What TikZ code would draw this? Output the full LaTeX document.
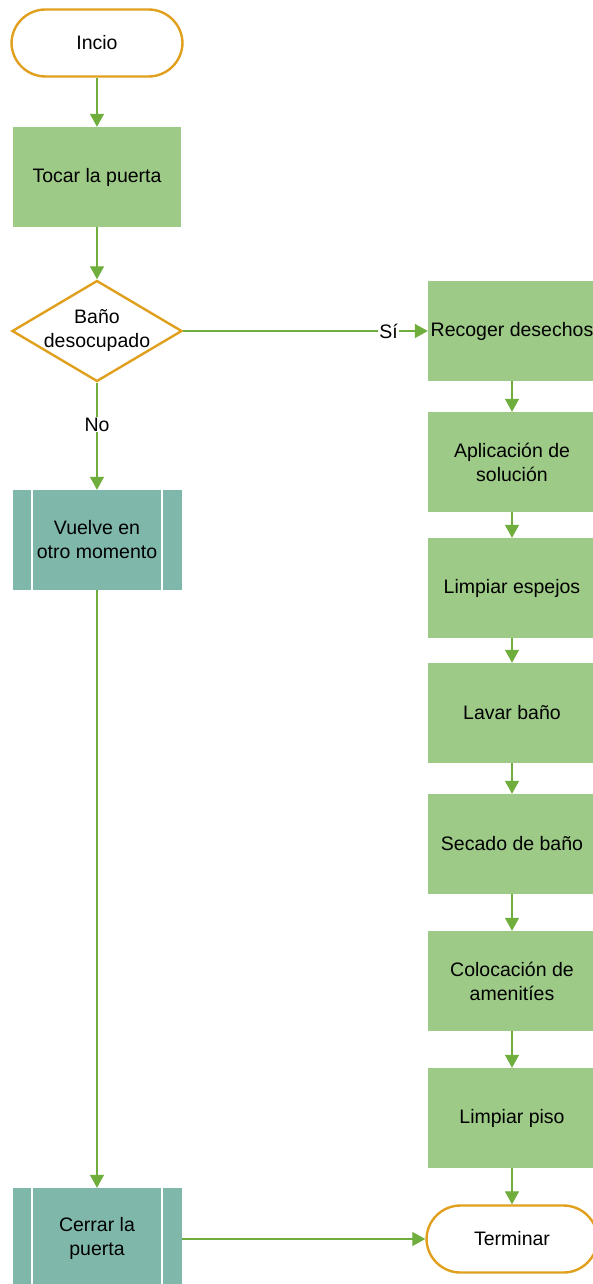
\documentclass[tikz,border=0pt]{standalone}
\usepackage{fontspec}
\setmainfont{Liberation Sans}
\usetikzlibrary{arrows.meta,shapes.geometric}
\definecolor{lineg}{HTML}{6FAD3C}
\definecolor{boxg}{HTML}{9DCA86}
\definecolor{teal}{HTML}{7FB8AA}
\definecolor{gold}{HTML}{E0A01E}
\begin{document}
\begin{tikzpicture}[x=1pt,y=-1pt,
  every node/.style={font=\fontsize{19.5}{24}\selectfont, align=center, text=black},
  term/.style={draw=gold, line width=2.4pt, fill=white, rounded corners=34pt, minimum width=171pt, minimum height=67pt, inner sep=0pt},
  proc/.style={fill=boxg, minimum width=168pt, minimum height=100pt, inner sep=0pt},
  pre/.style={fill=teal, minimum width=169pt, minimum height=100pt, inner sep=0pt},
  dec/.style={diamond, draw=gold, line width=2.4pt, fill=white, aspect=1.67, inner sep=-3pt, minimum width=170pt, minimum height=101pt},
  conn/.style={draw=lineg, line width=1.3pt, -{Triangle[width=14pt,length=13pt]}},
  lbl/.style={fill=white, inner sep=1pt}]
\useasboundingbox (0,0) rectangle (593,1284);
\begin{scope}
\clip (0,0) rectangle (593,1284);
% left column
\node[term] (inicio) at (97,43) {Incio};
\node[proc] (tocar) at (97,177) {Tocar la puerta};
\node[dec] (bano) at (97,331) {Baño\\desocupado};
\node[pre] (vuelve) at (97,540) {Vuelve en\\otro momento};
\node[pre] (cerrar) at (97,1238) {Cerrar la\\puerta};
\foreach \n in {vuelve,cerrar}{
  \draw[white, line width=2pt] ([xshift=19.5pt]\n.north west) -- ([xshift=19.5pt]\n.south west);
  \draw[white, line width=2pt] ([xshift=-19.5pt]\n.north east) -- ([xshift=-19.5pt]\n.south east);
}
% right column
\node[proc] (recoger) at (512,331) {Recoger desechos};
\node[proc] (aplic) at (512,462) {Aplicación de\\solución};
\node[proc] (espejos) at (512,588) {Limpiar espejos};
\node[proc] (lavar) at (512,713) {Lavar baño};
\node[proc] (secado) at (512,844) {Secado de baño};
\node[proc] (coloc) at (512,981) {Colocación de\\amenitíes};
\node[proc] (piso) at (512,1118) {Limpiar piso};
\node[term] (fin) at (512,1239) {Terminar};
% connectors
\draw[conn] (inicio) -- (tocar);
\draw[conn] (tocar) -- (bano);
\draw[conn] (bano.east) -- node[lbl, pos=0.84] {Sí} (recoger.west);
\draw[conn] (bano.south) -- node[lbl, pos=0.39] {No} (vuelve.north);
\draw[conn] (vuelve) -- (cerrar);
\draw[conn] (recoger) -- (aplic);
\draw[conn] (aplic) -- (espejos);
\draw[conn] (espejos) -- (lavar);
\draw[conn] (lavar) -- (secado);
\draw[conn] (secado) -- (coloc);
\draw[conn] (coloc) -- (piso);
\draw[conn] (piso) -- (fin);
\draw[conn] (cerrar.east |- fin.west) -- (fin.west);
\end{scope}
\end{tikzpicture}
\end{document}
